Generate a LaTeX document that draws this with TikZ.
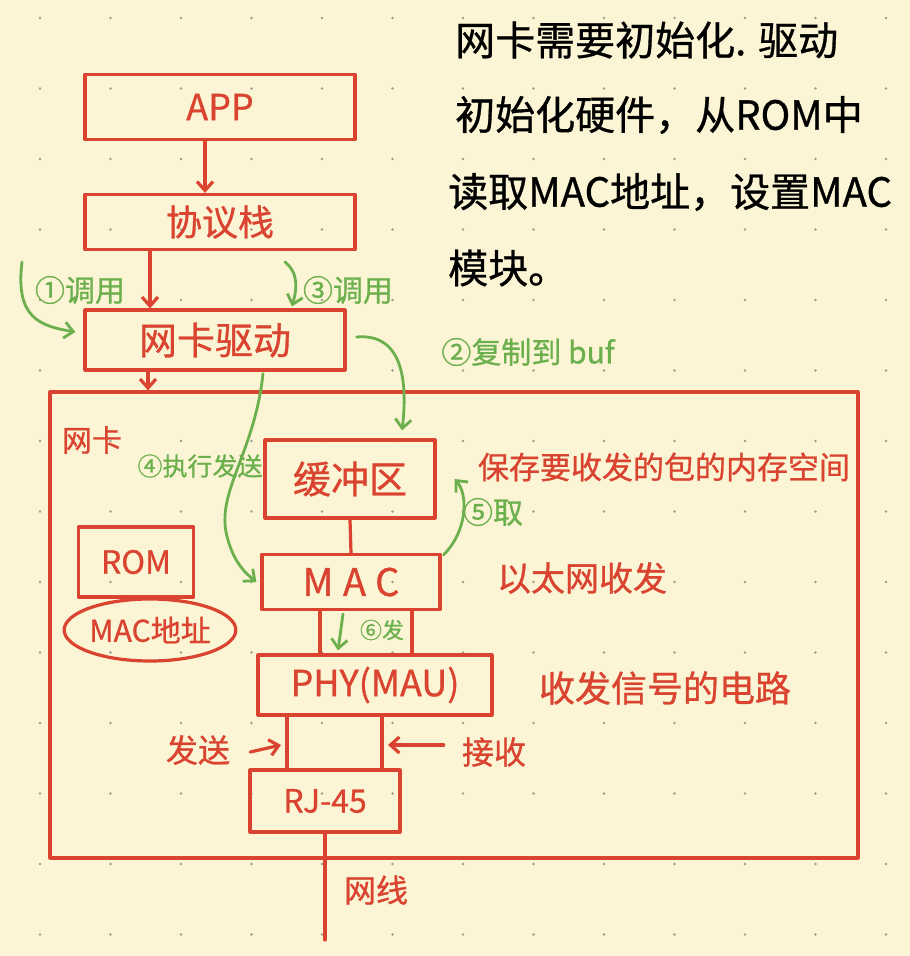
\documentclass[tikz,border=0pt]{standalone}
\usepackage{fontspec}
\setmainfont{Noto Sans CJK SC}[FakeBold=0.8]
\usetikzlibrary{arrows.meta,shapes.geometric}
\definecolor{paper}{HTML}{FBF5D5}
\definecolor{ink}{HTML}{D9432F}
\definecolor{leaf}{HTML}{6CAF4D}
\definecolor{griddot}{HTML}{9E9C90}
\newcommand{\fs}[1]{\fontsize{#1}{#1}\selectfont}
\tikzset{
  redline/.style={draw=ink,line width=3.2pt,line cap=round,line join=round},
  box/.style={redline,text=ink,inner sep=0pt,rectangle},
  redarrow/.style={redline,-{Straight Barb[length=9pt,width=16pt]}},
  greenarrow/.style={draw=leaf,line width=2.8pt,line cap=round,-{Straight Barb[length=9pt,width=16pt]}},
  redtext/.style={text=ink,inner sep=0pt},
  greentext/.style={text=leaf,inner sep=0pt},
  note/.style={text=black,inner sep=0pt,anchor=west,font=\fs{40}},
}
\begin{document}
\begin{tikzpicture}[x=1pt,y=-1pt]
% paper and dotted grid
\fill[paper] (0,0) rectangle (910,956);
\useasboundingbox (0,0) rectangle (910,956);
\foreach \i in {0,...,12}
  \foreach \j in {0,...,13}
    \fill[griddot] (40+70.5*\i,18+70.5*\j) circle (1.3);

% software stack
\node[box,minimum width=270,minimum height=65,font=\fs{36}] (app) at (220,107) {APP};
\node[box,minimum width=270,minimum height=55,font=\fs{36}] (stack) at (220,222) {协议栈};
\node[box,minimum width=260,minimum height=60,font=\fs{38}] (driver) at (215,340) {网卡驱动};

% network card frame
\node[box,minimum width=808,minimum height=466] (nic) at (454,625) {};
\node[redtext,font=\fs{30}] (niclbl) at (92,440) {网卡};

% hardware blocks
\node[box,minimum width=170,minimum height=78,font=\fs{38}] (buffer) at (350,479) {缓冲区};
\node[box,minimum width=178,minimum height=55,font=\fs{38}] (mac) at (351,582) {\addfontfeature{LetterSpace=25}MAC};
\node[box,minimum width=234,minimum height=60,font=\fs{36}] (phy) at (375,685) {PHY(MAU)};
\node[box,minimum width=150,minimum height=62,font=\fs{32}] (rj45) at (325,801) {RJ-45};
\node[box,minimum width=115,minimum height=70,font=\fs{32}] (rom) at (136,562) {ROM};
\node[redline,ellipse,text=ink,inner sep=0pt,minimum width=152,minimum height=62,font=\fs{30}] (macaddr) at (150,630) {MAC地址};

% red annotations
\node[redtext,font=\fs{31}] (bufnote) at (664,467) {保存要收发的包的内存空间};
\node[redtext,font=\fs{34}] (macnote) at (582,578) {以太网收发};
\node[redtext,font=\fs{36}] (phynote) at (665,688) {收发信号的电路};
\node[redtext,font=\fs{32}] (sendlbl) at (198,750) {发送};
\node[redtext,font=\fs{32}] (recvlbl) at (494,752) {接收};
\node[redtext,font=\fs{32}] (cablelbl) at (376,890) {网线};

% red connectors
\draw[redarrow] ([xshift=-15pt]app.south) -- ([xshift=-15pt]app.south |- stack.north);
\draw[redarrow] ([xshift=-70pt]stack.south) -- ([xshift=-70pt]stack.south |- driver.north);
\draw[redarrow] ([xshift=-67pt]driver.south) -- ([xshift=-67pt]driver.south |- nic.north);
\draw[redline] (buffer.south) -- (mac.north);
\draw[redline] ([xshift=-31pt]mac.south) -- ([xshift=-31pt]mac.south |- phy.north);
\draw[redline] ([xshift=61pt]mac.south) -- ([xshift=61pt]mac.south |- phy.north);
\draw[redline] ([xshift=-88pt]phy.south) -- ([xshift=-88pt]phy.south |- rj45.north);
\draw[redline] ([xshift=7pt]phy.south) -- ([xshift=7pt]phy.south |- rj45.north);
\coordinate (cableend) at (325,940);
\draw[redline] (rj45.south) -- (cableend);
\coordinate (sendtip) at (281,745);
\coordinate (recvtip) at (388,745);
\draw[redarrow] ([xshift=20pt,yshift=-2pt]sendlbl.east) -- (sendtip);
\draw[redarrow] ([xshift=-18pt,yshift=7pt]recvlbl.west) -- (recvtip);

% green call flow
\coordinate (c1) at (22,262);
\draw[greenarrow] (c1) .. controls (15,318) and (40,326) .. ([xshift=-8pt,yshift=8pt]driver.west);
\node[greentext,font=\fs{30}] (l1) at (80,290) {①调用};

\coordinate (c3) at (285,262);
\draw[greenarrow] (c3) .. controls (300,274) and (296,292) .. ([xshift=77pt,yshift=2pt]driver.north);
\node[greentext,font=\fs{30}] (l3) at (348,290) {③调用};

\draw[greenarrow] ([xshift=10pt,yshift=3pt]driver.east) .. controls (402,333) and (408,380) .. ([xshift=52pt,yshift=8pt]buffer.north);
\node[greentext,font=\fs{30}] (l2) at (528,352) {②复制到 buf};

\draw[greenarrow] ([xshift=48pt,yshift=-2pt]driver.south) .. controls (255,450) and (218,490) .. (226,532)
  .. controls (232,560) and (244,572) .. ([xshift=-4pt]mac.west);
\node[greentext,font=\fs{25}] (l4) at (200,466) {④执行发送};

\draw[greenarrow] ([xshift=2pt,yshift=-2pt]mac.north east) .. controls (468,530) and (468,494) .. ([xshift=18pt]buffer.east);
\node[greentext,font=\fs{30}] (l5) at (493,512) {⑤取};

\coordinate (c6) at (343,614);
\draw[greenarrow] (c6) -- ([xshift=-37pt,yshift=3pt]phy.north);
\node[greentext,font=\fs{22}] (l6) at (382,630) {⑥发};

% black notes
\node[note] (n1) at (455,40) {网卡需要初始化. 驱动};
\node[note] (n2) at (455,115) {初始化硬件，从ROM中};
\node[note] (n3) at (448,192) {读取MAC地址，设置MAC};
\node[note] (n4) at (448,268) {模块。};
\end{tikzpicture}
\end{document}
